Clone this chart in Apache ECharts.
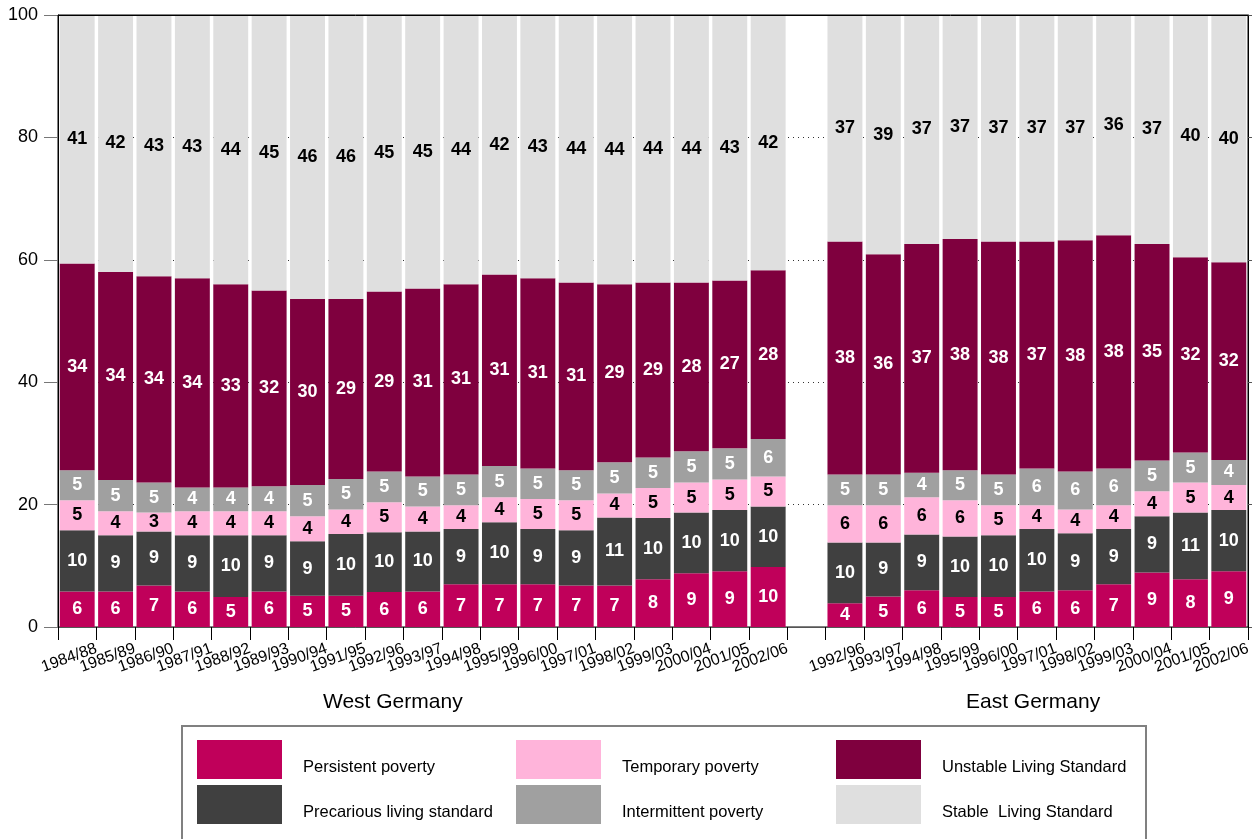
<!DOCTYPE html>
<html><head><meta charset="utf-8">
<script src="https://cdn.jsdelivr.net/npm/echarts@6/dist/echarts.min.js"></script>
<style>html,body{margin:0;padding:0;background:#fff}#c{width:1254px;height:839px}</style>
</head><body><div id="c"></div>
<script>
const westPeriods = ['1984/88','1985/89','1986/90','1987/91','1988/92','1989/93','1990/94','1991/95','1992/96','1993/97','1994/98','1995/99','1996/00','1997/01','1998/02','1999/03','2000/04','2001/05','2002/06'];
const eastPeriods = ['1992/96','1993/97','1994/98','1995/99','1996/00','1997/01','1998/02','1999/03','2000/04','2001/05','2002/06'];

const westPersistent   = [5.8,5.8,6.8,5.8,4.9,5.8,5.1,5.1,5.7,5.8,7.0,7.0,7.0,6.8,6.8,7.8,8.8,9.1,9.8];
const westPrecarious   = [10.0,9.2,8.8,9.2,10.1,9.2,8.9,10.1,9.8,9.8,9.0,10.1,9.0,9.0,11.1,10.0,9.9,10.0,9.9];
const westTemporary    = [4.9,3.9,3.1,3.9,3.9,3.9,4.1,4.0,4.9,4.1,3.9,4.1,4.9,4.9,3.9,4.9,4.9,5.0,4.9];
const westIntermittent = [4.9,5.1,4.9,3.9,3.9,4.1,5.1,5.0,5.0,4.9,5.0,5.1,5.0,4.9,5.1,5.0,5.1,5.1,6.1];
const westUnstable     = [33.8,34.0,33.7,34.2,33.2,32.0,30.4,29.4,29.4,30.7,31.1,31.3,31.1,30.7,29.1,28.6,27.6,27.4,27.6];
const westStable       = [40.6,42.0,42.7,43.0,44.0,45.0,46.4,46.4,45.2,44.7,44.0,42.4,43.0,43.7,44.0,43.7,43.7,43.4,41.7];

const eastPersistent   = [3.9,5.0,6.0,4.9,4.9,5.8,6.0,7.0,8.9,7.8,9.1];
const eastPrecarious   = [9.9,8.8,9.1,9.9,10.1,10.2,9.3,9.0,9.2,10.9,10.0];
const eastTemporary    = [6.1,6.1,6.1,5.9,4.9,3.9,3.9,3.9,4.1,4.9,4.1];
const eastIntermittent = [5.0,5.0,4.0,4.9,5.0,6.0,6.2,6.0,5.0,4.9,4.1];
const eastUnstable     = [38.1,36.0,37.4,37.8,38.1,37.1,37.8,38.1,35.4,31.9,32.3];
const eastStable       = [37.0,39.1,37.4,36.6,37.0,37.0,36.8,36.0,37.4,39.6,40.4];

const yTicks = [0,20,40,60,80,100];
const regionNames = ['West Germany','East Germany'];

const seriesNames = ['Persistent poverty','Precarious living standard','Temporary poverty','Intermittent poverty','Unstable Living Standard','Stable  Living Standard'];
const seriesColors = ['#C0005A','#404040','#FFB4DA','#A0A0A0','#7F003E','#DFDFDF'];
const labelColors = ['#fff','#fff','#000','#fff','#fff','#000'];

// combined categories with a blank gap category between regions
const categories = westPeriods.concat([''], eastPeriods);
// tick-label axis: one point per category boundary (labels sit at each bar's right edge)
const boundaryLabels = [''].concat(categories);
const join = (w, e) => w.concat([null], e);
const seriesData = [
  join(westPersistent, eastPersistent),
  join(westPrecarious, eastPrecarious),
  join(westTemporary, eastTemporary),
  join(westIntermittent, eastIntermittent),
  join(westUnstable, eastUnstable),
  join(westStable, eastStable)
];

const FONT = '"Liberation Sans", Arial, Helvetica, sans-serif';
const chart = echarts.init(document.getElementById('c'), null, {renderer:'canvas'});

const legendPos = [
  [197,740],[197,785],[516,740],[516,785],[836,740],[836,785]
];

const option = {
  animation: false,
  backgroundColor: '#fff',
  textStyle: {fontFamily: FONT},
  grid: {left: 58, right: 6, top: 15, bottom: 212, show: true, borderColor: '#000', borderWidth: 1, backgroundColor: 'transparent'},
  legend: seriesNames.map((n, i) => ({
    data: [n], left: legendPos[i][0], top: legendPos[i][1], padding: 0,
    itemWidth: 85, itemHeight: 39, icon: 'rect', selectedMode: false,
    formatter: name => '\n' + name,
    textStyle: {fontSize: 16.5, lineHeight: 16, color: '#000', fontFamily: FONT, padding: [0,0,0,16]}
  })),
  xAxis: [
    {type: 'category', data: categories, gridIndex: 0, position: 'bottom',
     axisLine: {show: true, lineStyle: {color: '#555', width: 1}},
     axisTick: {show: false}, axisLabel: {show: false}, splitLine: {show: false}},
    {type: 'category', data: boundaryLabels, boundaryGap: false, gridIndex: 0, position: 'bottom',
     axisLine: {show: false}, splitLine: {show: false},
     axisTick: {show: true, interval: 0, length: 13, lineStyle: {color: '#000', width: 1}},
     axisLabel: {show: true, interval: 0, rotate: 20, margin: 21, fontSize: 16, color: '#000', fontFamily: FONT}},
    {type: 'category', data: categories, gridIndex: 0, position: 'top', z: 10,
     axisLine: {show: true, onZero: false, lineStyle: {color: '#000', width: 1}},
     axisTick: {show: false}, axisLabel: {show: false}, splitLine: {show: false}}
  ],
  yAxis: [
    {type: 'value', min: yTicks[0], max: yTicks[yTicks.length-1], interval: yTicks[1]-yTicks[0], position: 'left',
     axisLine: {show: true, lineStyle: {color: '#000', width: 1}},
     axisTick: {show: true, length: 14, lineStyle: {color: '#777'}},
     axisLabel: {fontSize: 18, color: '#000', margin: 20, fontFamily: FONT},
     splitLine: {show: true, lineStyle: {type: [1, 4], color: '#333', width: 1}}},
    {type: 'value', min: yTicks[0], max: yTicks[yTicks.length-1], interval: yTicks[1]-yTicks[0], position: 'right',
     axisLine: {show: true, lineStyle: {color: '#000'}},
     axisTick: {show: true, length: 4, lineStyle: {color: '#555'}},
     axisLabel: {show: false}, splitLine: {show: false}}
  ],
  series: seriesNames.map((n, i) => ({
    name: n, type: 'bar', stack: 'total', xAxisIndex: 0, yAxisIndex: 0,
    barCategoryGap: '9%',
    itemStyle: {color: seriesColors[i]},
    label: {show: true, position: 'inside', fontSize: 18, fontWeight: 'bold', color: labelColors[i], fontFamily: FONT,
      formatter: p => (p.value == null ? '' : String(Math.round(p.value)))},
    data: seriesData[i]
  })),
  graphic: [
    {type: 'text', left: 323, top: 692, style: {text: regionNames[0], fontSize: 21, fill: '#000', fontFamily: FONT}},
    {type: 'text', left: 966, top: 692, style: {text: regionNames[1], fontSize: 21, fill: '#000', fontFamily: FONT}},
    {type: 'rect', shape: {x: 182, y: 726, width: 964, height: 140}, style: {fill: 'none', stroke: '#808080', lineWidth: 2}, z: 0}
  ]
};
chart.setOption(option);
</script>
</body></html>
